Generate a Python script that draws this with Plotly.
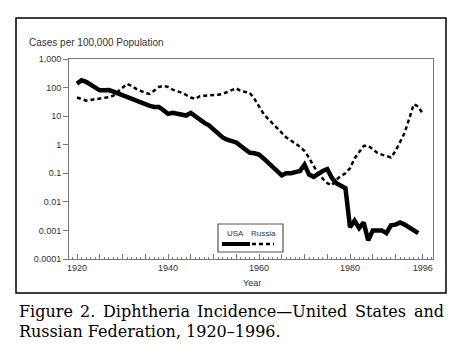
import plotly.graph_objects as go

usa_years = list(range(1920, 1996))
usa_rate = [135, 180, 160, 130, 100, 80, 80, 82, 72, 62,
            55, 50, 42, 35, 30, 26, 23, 21, 21, 16,
            12, 13, 12, 11, 10.5, 13, 10, 7, 5.8, 4.8,
            3.5, 2.3, 1.8, 1.5, 1.3, 1.2, 0.9, 0.65, 0.52, 0.5,
            0.45, 0.33, 0.24, 0.16, 0.13, 0.085, 0.1, 0.1, 0.11, 0.12,
            0.2, 0.09, 0.075, 0.1, 0.12, 0.14, 0.07, 0.045, 0.036, 0.03,
            0.0013, 0.0022, 0.0012, 0.0019, 0.00045, 0.001, 0.001, 0.001, 0.0008, 0.0015,
            0.0016, 0.0019, 0.0016, 0.0013, 0.001, 0.0008]

russia_years = list(range(1920, 1997))
russia_rate = [45, 40, 35, 37, 39, 40, 42, 46, 52, 70,
               100, 135, 115, 90, 77, 65, 60, 80, 105, 115,
               105, 85, 77, 66, 55, 45, 40, 50, 52, 52,
               55, 56, 60, 70, 80, 95, 75, 70, 65, 40,
               22, 12, 8, 5.5, 3.5, 2.5, 1.8, 1.4, 1.1, 0.85,
               0.6, 0.35, 0.18, 0.1, 0.065, 0.045, 0.038, 0.06, 0.08, 0.1,
               0.15, 0.33, 0.55, 0.9, 0.92, 0.7, 0.52, 0.45, 0.4, 0.36,
               0.6, 1.2, 2.6, 8, 26, 22, 12]

y_tickvals = [1e-4, 1e-3, 1e-2, 1e-1, 1, 10, 100, 1000]
y_ticktext = ["0.0001", "0.001", "0.01", "0.1", "1", "10", "100", "1,000"]
x_tickvals = [1920, 1925, 1930, 1935, 1940, 1945, 1950, 1955, 1960, 1965,
              1970, 1975, 1980, 1985, 1990, 1996]
x_ticktext = ["1920", "", "", "", "1940", "", "", "", "1960", "",
              "", "", "1980", "", "", "1996"]

caption_line1 = ["Figure", "2.", "Diphtheria", "Incidence\u2014United", "States", "and"]
caption_line2 = "Russian Federation, 1920\u20131996."

W, H = 464, 357
L, R, T, B = 69, 433, 59, 259


def px(x):
    return (x - L) / (R - L)


def py(y):
    return (B - y) / (B - T)


AX = "#777777"
TXT = "#333333"
SANS = "Liberation Sans, Arial, sans-serif"
SERIF = "DejaVu Serif, serif"

fig = go.Figure()
fig.add_trace(go.Scatter(x=usa_years, y=usa_rate, mode="lines", name="USA",
                         line=dict(color="black", width=4.5), showlegend=False))
fig.add_trace(go.Scatter(x=russia_years, y=russia_rate, mode="lines", name="Russia",
                         line=dict(color="black", width=2.5, dash="4px,3px"),
                         showlegend=False))

fig.update_layout(
    width=W, height=H, autosize=False,
    margin=dict(l=L, r=W - R, t=T, b=H - B),
    paper_bgcolor="white", plot_bgcolor="white",
    font=dict(family=SANS, size=9, color=TXT),
)
fig.update_xaxes(range=[1918.24, 1998.24], tickvals=x_tickvals, ticktext=x_ticktext,
                 ticks="inside", ticklen=5, tickcolor=AX, tickwidth=1,
                 minor=dict(dtick=1, ticks="inside", ticklen=2, tickcolor=AX),
                 showline=True, linecolor=AX, linewidth=1, mirror=True,
                 showgrid=False, zeroline=False, tickfont=dict(size=9, color=TXT))
fig.update_yaxes(type="log", range=[-4, 3], tickvals=y_tickvals, ticktext=y_ticktext,
                 ticks="outside", ticklen=5, tickcolor=AX, tickwidth=1,
                 showline=True, linecolor=AX, linewidth=1, mirror=True,
                 showgrid=False, zeroline=False, tickfont=dict(size=9, color=TXT))

shapes = [
    dict(type="rect", xref="paper", yref="paper", x0=px(16), x1=px(446), y0=py(293), y1=py(18),
         line=dict(color="black", width=1.5)),
    dict(type="rect", xref="paper", yref="paper", x0=px(218), x1=px(283), y0=py(252), y1=py(224),
         line=dict(color="#555555", width=1.2), fillcolor="white"),
    dict(type="line", xref="paper", yref="paper", x0=px(222), x1=px(250), y0=py(244), y1=py(244),
         line=dict(color="black", width=4)),
    dict(type="line", xref="paper", yref="paper", x0=px(252), x1=px(274), y0=py(244), y1=py(244),
         line=dict(color="black", width=2.5, dash="4px,3px")),
]
fig.update_layout(shapes=shapes)

ann = [
    dict(text="Cases per 100,000 Population", x=px(27), y=py(43), xanchor="left", yanchor="middle",
         font=dict(size=10, color=TXT)),
    dict(text="Year", x=px(252), y=py(283), xanchor="center", yanchor="middle",
         font=dict(size=9, color=TXT)),
    dict(text="USA", x=px(235), y=py(233), xanchor="center", yanchor="middle",
         font=dict(size=8, color=TXT)),
    dict(text="Russia", x=px(263), y=py(233), xanchor="center", yanchor="middle",
         font=dict(size=8, color=TXT)),
]
# justified first caption line: word left edges (last word right-aligned)
word_left = [17, 78, 101, 195, 353]
for w, xl in zip(caption_line1[:-1], word_left):
    ann.append(dict(text=w, x=px(xl), y=py(311), xanchor="left", yanchor="middle",
                    font=dict(family=SERIF, size=16, color="black")))
ann.append(dict(text=caption_line1[-1], x=px(446), y=py(311), xanchor="right", yanchor="middle",
                font=dict(family=SERIF, size=16, color="black")))
ann.append(dict(text=caption_line2, x=px(17), y=py(331), xanchor="left", yanchor="middle",
                font=dict(family=SERIF, size=16, color="black")))
for a in ann:
    a.update(xref="paper", yref="paper", showarrow=False)
fig.update_layout(annotations=ann)

fig.write_html("out.html", config={"displayModeBar": False},
               post_script="document.body.style.margin='0px';")
